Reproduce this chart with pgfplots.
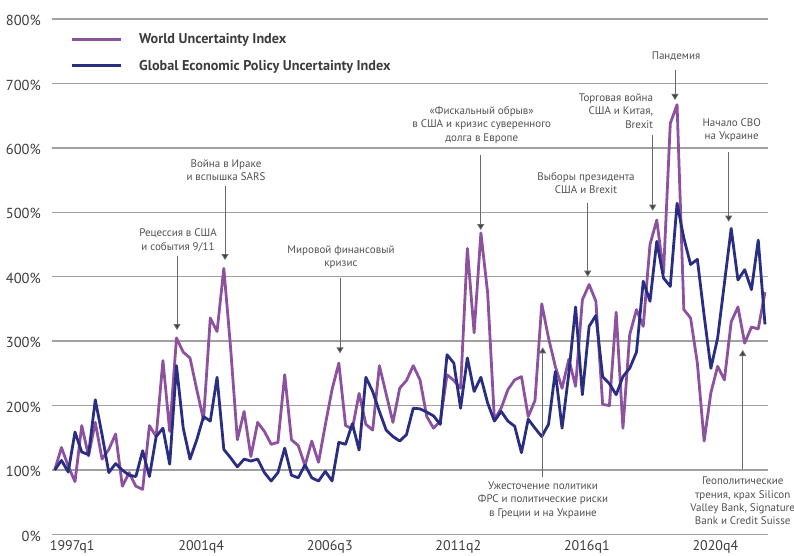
\documentclass[border=0pt]{standalone}
\usepackage{fontspec}
\setmainfont{PT Sans}
\usepackage{pgfplots}
\usepackage{pgfplotstable}
\pgfplotsset{compat=1.18}
\usetikzlibrary{arrows.meta}
\definecolor{wui}{RGB}{140,82,160}
\definecolor{gepu}{RGB}{42,46,130}
\definecolor{gridc}{RGB}{160,160,160}
\definecolor{txt}{RGB}{60,60,60}
\definecolor{ann}{RGB}{80,80,80}
\definecolor{arr}{RGB}{105,105,105}

\pgfplotstableread{
i v
0 100
1 135
2 106
3 82
4 169
5 122
6 174
7 117
8 132
9 156
10 75
11 96
12 75
13 70
14 169
15 152
16 270
17 160
18 305
19 283
20 274
21 225
22 178
23 336
24 315
25 413
26 290
27 147
28 191
29 121
30 174
31 160
32 140
33 143
34 248
35 147
36 138
37 107
38 145
39 112
40 170
41 225
42 266
43 169
44 164
45 219
46 171
47 162
48 262
49 218
50 174
51 227
52 239
53 262
54 240
55 183
56 165
57 176
58 248
59 239
60 227
61 444
62 313
63 468
64 375
65 178
66 196
67 225
68 240
69 245
70 183
71 208
72 358
73 305
74 261
75 227
76 272
77 230
78 364
79 388
80 362
81 202
82 200
83 345
84 165
85 310
86 349
87 323
88 450
89 488
90 406
91 638
92 667
93 349
94 336
95 266
96 145
97 220
98 261
99 240
100 330
101 353
102 297
103 322
104 319
105 376
}\wuitable

\pgfplotstableread{
i v
0 100
1 115
2 97
3 159
4 128
5 124
6 209
7 155
8 96
9 110
10 100
11 92
12 90
13 130
14 90
15 152
16 165
17 109
18 262
19 165
20 117
21 147
22 183
23 176
24 244
25 132
26 119
27 105
28 117
29 114
30 117
31 96
32 83
33 96
34 134
35 92
36 88
37 108
38 88
39 83
40 98
41 83
42 143
43 140
44 172
45 131
46 244
47 222
48 191
49 162
50 152
51 145
52 155
53 196
54 195
55 190
56 184
57 171
58 279
59 266
60 196
61 274
62 222
63 244
64 204
65 176
66 191
67 176
68 168
69 127
70 179
71 165
72 152
73 171
74 253
75 165
76 250
77 353
78 217
79 323
80 340
81 245
82 234
83 217
84 245
85 258
86 283
87 393
88 362
89 455
90 398
91 385
92 514
93 460
94 419
95 427
96 340
97 258
98 305
99 390
100 475
101 395
102 411
103 380
104 457
105 326
}\gepatable

\begin{document}
\begin{tikzpicture}[x=1pt,y=1pt]
\useasboundingbox (0,0) rectangle (794,555);
\begin{axis}[
  at={(52pt,20.5pt)}, anchor=south west,
  scale only axis, width=715.7pt, height=515.5pt,
  xmin=-0.4, xmax=105.4, ymin=0, ymax=800,
  axis line style={draw=none},
  tick style={draw=none},
  ymajorgrids, grid style={gridc, line width=1.4pt},
  ytick={0,100,200,300,400,500,600,700,800},
  yticklabels={0\%,100\%,200\%,300\%,400\%,500\%,600\%,700\%,800\%},
  xtick={0,19,38,57,76,95},
  xticklabels={1997q1,2001q4,2006q3,2011q2,2016q1,2020q4},
  yticklabel style={anchor=east, inner sep=0pt, xshift=-11pt, yshift=-1.5pt, text=txt, font=\fontsize{14.5}{16}\selectfont},
  xticklabel style={anchor=north west, inner sep=0pt, xshift=-5pt, yshift=-6pt, text=txt, font=\fontsize{14}{16}\selectfont},
  clip=false,
]
\addplot[wui, line width=2.8pt, line join=round] table[x=i,y=v]{\wuitable};
\addplot[gepu, line width=2.8pt, line join=round] table[x=i,y=v]{\gepatable};
\end{axis}

% legend
\draw[wui, line width=3pt] (72,515.3) -- (121,515.3);
\draw[gepu, line width=3pt] (72,489.3) -- (121,489.3);
\node[anchor=base west, inner sep=0pt, text=txt, font=\fontsize{14.2}{16}\selectfont\bfseries] at (139,511.7) {World Uncertainty Index};
\node[anchor=base west, inner sep=0pt, text=txt, font=\fontsize{14.2}{16}\selectfont\bfseries] at (139,484) {Global Economic Policy Uncertainty Index};

% annotations
\tikzset{ann/.style={align=center, inner sep=0pt, text=ann, font=\fontsize{11}{13.3}\selectfont},
         arw/.style={draw=arr, line width=0.9pt, -{Triangle[width=7pt,length=6pt,fill=black!75]}}}
\node[ann] at (178,314.5) {Рецессия в США\\и события 9/11};
\draw[arw] (177,299) -- (177,225);
\node[ann] at (226,384.5) {Война в Ираке\\и вспышка SARS};
\draw[arw] (225,369) -- (225,295);
\node[ann] at (341,297.5) {Мировой финансовый\\кризис};
\draw[arw] (340,277) -- (340,201.7);
\node[ann] at (481.7,430) {«Фискальный обрыв»\\в США и кризис суверенного\\долга в Европе};
\draw[arw] (480.7,400) -- (480.7,325);
\node[ann] at (586,371.7) {Выборы президента\\США и Brexit};
\draw[arw] (587.7,352.3) -- (587.7,278.3);
\node[ann, align=right, anchor=east] at (653.3,443.8) {Торговая война\\США и Китая,\\Brexit};
\draw[arw] (652.7,420) -- (652.7,344.3);
\node[ann] at (676,499) {Пандемия};
\draw[arw] (675,485) -- (675,455);
\node[ann] at (731.7,424.7) {Начало СВО\\на Украине};
\draw[arw] (728.7,403.3) -- (728.7,333.3);
\node[ann] at (543,55) {Ужесточение политики\\ФРС и политические риски\\в Греции и на Украине};
\draw[arw] (542.7,78.3) -- (542.7,207.7);
\node[ann] at (742.7,54) {Геополитические\\трения, крах Silicon\\Valley Bank, Signature\\Bank и Credit Suisse};
\draw[arw] (742.7,85.7) -- (742.7,205);
\end{tikzpicture}
\end{document}
